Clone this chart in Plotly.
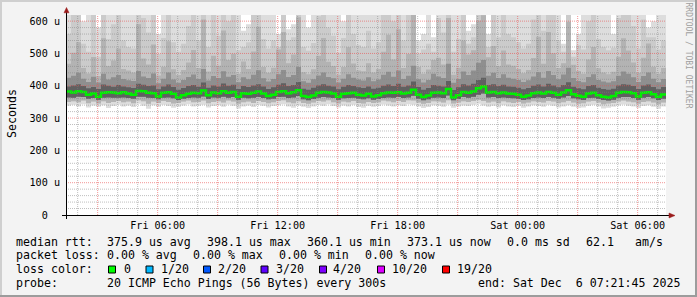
import plotly.graph_objects as go
import pandas as pd

# ---------------- data ----------------
start_time = "2025-12-05 01:25"
end_time = "2025-12-06 07:25"
times = pd.date_range(start_time, periods=121, freq="15min")

median = [
    382, 379, 383, 381, 372, 376, 366, 378, 380, 379,
    377, 380, 376, 372, 384, 383, 378, 377, 367, 378,
    380, 375, 364, 371, 375, 378, 377, 385, 371, 379,
    377, 383, 378, 381, 366, 377, 375, 378, 382, 376,
    368, 372, 381, 383, 377, 380, 386, 368, 365, 370,
    378, 381, 379, 376, 366, 375, 377, 378, 372, 370,
    375, 367, 371, 377, 379, 378, 380, 376, 378, 388,
    372, 365, 370, 378, 379, 377, 390, 364, 371, 381,
    378, 382, 392, 398, 379, 381, 377, 379, 376, 375,
    372, 366, 370, 377, 379, 376, 381, 378, 372, 379,
    386, 374, 369, 366, 376, 378, 371, 366, 364, 368,
    378, 381, 380, 377, 367, 378, 380, 374, 366, 373, 373]

lo1 = [
    338, 341, 336, 343, 333, 339, 335, 340, 331, 337,
    342, 336, 339, 334, 344, 338, 329, 340, 335, 341,
    337, 332, 335, 339, 343, 336, 338, 341, 333, 337,
    340, 335, 342, 338, 330, 336, 339, 334, 341, 338,
    333, 337, 340, 343, 336, 332, 339, 335, 331, 336,
    341, 338, 343, 337, 333, 339, 336, 341, 334, 332,
    338, 335, 337, 342, 339, 336, 340, 337, 343, 341,
    336, 331, 334, 340, 338, 335, 342, 332, 336, 339,
    337, 341, 344, 339, 335, 338, 333, 340, 336, 334,
    338, 332, 336, 340, 337, 335, 341, 338, 333, 336,
    340, 335, 331, 333, 338, 341, 336, 330, 332, 335,
    339, 342, 338, 336, 331, 337, 340, 335, 329, 336, 336]

lo2 = [
    350, 352, 349, 354, 346, 351, 345, 352, 347, 350,
    353, 349, 351, 346, 355, 352, 344, 351, 347, 353,
    350, 345, 347, 351, 354, 349, 350, 354, 346, 350,
    352, 348, 354, 351, 344, 349, 351, 347, 353, 350,
    346, 349, 353, 355, 349, 346, 352, 347, 344, 348,
    353, 351, 355, 349, 345, 351, 349, 353, 347, 345,
    350, 347, 349, 354, 352, 349, 353, 350, 355, 354,
    348, 344, 347, 352, 351, 348, 355, 345, 348, 352,
    350, 353, 357, 353, 348, 351, 346, 352, 349, 347,
    350, 345, 348, 352, 350, 348, 353, 351, 346, 349,
    353, 348, 344, 346, 351, 353, 348, 343, 345, 347,
    351, 354, 351, 349, 344, 350, 352, 348, 343, 348, 348]

lo3 = [
    364, 363, 366, 365, 360, 362, 357, 363, 364, 363,
    363, 364, 362, 360, 366, 366, 363, 362, 358, 363,
    364, 361, 356, 360, 362, 364, 363, 367, 359, 364,
    363, 366, 363, 365, 357, 363, 361, 363, 365, 362,
    358, 360, 365, 366, 362, 364, 368, 358, 355, 359,
    363, 365, 364, 362, 357, 361, 362, 363, 360, 358,
    361, 357, 359, 362, 364, 363, 365, 362, 364, 369,
    360, 355, 358, 363, 364, 362, 370, 355, 359, 365,
    363, 366, 372, 376, 364, 365, 362, 364, 362, 361,
    359, 356, 358, 362, 364, 362, 365, 363, 360, 364,
    368, 361, 358, 356, 362, 363, 359, 356, 354, 357,
    363, 365, 365, 362, 357, 363, 365, 361, 356, 360, 360]

hi5 = [
    398, 401, 405, 399, 392, 396, 390, 404, 400, 397,
    402, 398, 395, 393, 406, 403, 399, 401, 389, 398,
    404, 396, 388, 393, 399, 402, 397, 410, 394, 401,
    398, 407, 400, 403, 390, 399, 396, 401, 405, 398,
    390, 395, 403, 408, 399, 402, 412, 391, 388, 394,
    401, 405, 400, 398, 389, 397, 402, 399, 395, 393,
    398, 391, 394, 400, 404, 399, 406, 397, 401, 413,
    396, 388, 393, 402, 400, 398, 415, 387, 395, 405,
    401, 406, 418, 425, 402, 405, 399, 403, 398, 397,
    394, 389, 393, 400, 404, 398, 406, 401, 395, 402,
    411, 397, 392, 389, 399, 402, 394, 390, 388, 391,
    401, 405, 403, 399, 390, 401, 404, 396, 389, 396, 396]

hi4 = [
    425, 431, 440, 422, 412, 428, 410, 437, 419, 426,
    433, 421, 417, 415, 446, 429, 424, 438, 408, 422,
    441, 419, 409, 418, 427, 435, 421, 452, 416, 430,
    424, 445, 428, 433, 411, 426, 420, 434, 448, 423,
    413, 421, 436, 449, 427, 433, 458, 414, 409, 420,
    432, 441, 427, 423, 410, 422, 436, 425, 419, 416,
    426, 414, 419, 434, 443, 428, 447, 421, 431, 462,
    420, 410, 418, 437, 429, 424, 468, 409, 421, 444,
    433, 447, 471, 480, 431, 440, 424, 436, 425, 422,
    418, 412, 417, 429, 442, 425, 446, 433, 420, 435,
    456, 424, 415, 411, 427, 436, 418, 413, 410, 414,
    431, 444, 437, 426, 412, 430, 441, 422, 411, 421, 421]

hi3 = [
    468, 502, 535, 455, 438, 489, 430, 547, 461, 478,
    515, 452, 447, 441, 590, 484, 466, 528, 432, 459,
    538, 451, 433, 449, 472, 511, 455, 605, 444, 493,
    462, 571, 480, 499, 437, 475, 452, 506, 583, 458,
    440, 456, 512, 566, 470, 497, 612, 442, 436, 451,
    493, 548, 474, 461, 434, 458, 519, 469, 447, 445,
    470, 441, 452, 505, 558, 481, 575, 455, 498, 620,
    458, 437, 450, 480, 487, 466, 610, 434, 456, 540,
    497, 510, 602, 618, 488, 523, 460, 509, 466, 462,
    452, 439, 449, 486, 552, 468, 566, 501, 455, 470,
    598, 465, 446, 437, 481, 520, 454, 441, 436, 443,
    490, 547, 509, 472, 440, 487, 531, 459, 437, 455, 455]

hi2 = [
    560, 640, 660, 530, 505, 620, 490, 660, 545, 590,
    650, 540, 520, 515, 660, 610, 565, 660, 498, 548,
    660, 535, 505, 530, 585, 650, 540, 660, 520, 620,
    555, 660, 600, 630, 510, 520, 535, 640, 660, 545,
    515, 540, 520, 660, 540, 550, 660, 520, 508, 532,
    615, 660, 580, 555, 502, 548, 650, 560, 525, 520,
    570, 515, 535, 640, 660, 600, 660, 540, 625, 660,
    500, 512, 530, 505, 610, 565, 660, 505, 545, 660,
    530, 550, 660, 660, 520, 650, 550, 640, 560, 550,
    535, 515, 530, 605, 660, 570, 660, 630, 540, 505,
    660, 490, 525, 512, 600, 650, 545, 520, 510, 518,
    610, 660, 640, 585, 515, 605, 550, 550, 512, 540, 540]

hi1 = [
    660, 660, 660, 600, 660, 660, 580, 660, 660, 660,
    660, 660, 620, 660, 660, 660, 660, 660, 560, 660,
    660, 660, 660, 660, 660, 660, 660, 660, 660, 660,
    660, 660, 660, 660, 660, 570, 590, 660, 660, 660,
    660, 660, 560, 660, 575, 590, 660, 660, 580, 660,
    660, 660, 660, 660, 660, 600, 660, 660, 660, 660,
    660, 660, 660, 660, 660, 660, 660, 660, 660, 660,
    540, 560, 660, 550, 660, 660, 660, 660, 660, 660,
    570, 590, 660, 660, 560, 660, 660, 660, 660, 660,
    660, 660, 660, 660, 660, 660, 660, 660, 660, 530,
    660, 510, 560, 660, 660, 660, 660, 660, 660, 560,
    660, 660, 660, 660, 660, 660, 580, 600, 660, 660, 660]

# tick labels
y_tick_vals = [0, 100, 200, 300, 400, 500, 600]
y_tick_text = ["0\u00a0\u00a0", "100 u", "200 u", "300 u", "400 u", "500 u", "600 u"]
x_tick_vals = ["2025-12-05 06:00", "2025-12-05 12:00", "2025-12-05 18:00",
               "2025-12-06 00:00", "2025-12-06 06:00"]
x_tick_text = ["Fri 06:00", "Fri 12:00", "Fri 18:00", "Sat 00:00", "Sat 06:00"]

rtt_items = ["375.9 us avg", "398.1 us max", "360.1 us min", "373.1 us now",
             "0.0 ms sd", "62.1", "am/s"]
loss_items = ["0.00 % avg", "0.00 % max", "0.00 % min", "0.00 % now"]
loss_labels = ["0", "1/20", "2/20", "3/20", "4/20", "10/20", "19/20"]
loss_colors = ["#00ff00", "#00b8ff", "#0059ff", "#5e00ff", "#7e00ff", "#dd00ff", "#ff0000"]
probe_text = "20 ICMP Echo Pings (56 Bytes) every 300s"
end_text = "end: Sat Dec  6 07:21:45 2025"

# ---------------- layout geometry (pixels) ----------------
W_FIG, H_FIG = 697, 297
L, T, PW, PH = 66, 15, 600, 200
FONT = "DejaVu Sans Mono"
Y_MAX = 619


def px(x):
    return (x - L) / PW


def py(y):
    return (T + PH - y) / PH


band_colors = ["#dddddd", "#cbcbcb", "#b3b3b3", "#8f8f8f", "#606060"]
bands = [(lo1, hi1), (lo2, hi2), (lo2, hi3), (lo3, hi4), (lo3, hi5)]

fig = go.Figure()
for (lo, hi), col in zip(bands, band_colors):
    fig.add_trace(go.Scatter(x=times, y=lo, mode="lines",
                             line=dict(width=0, shape="hv"),
                             hoverinfo="skip", showlegend=False))
    fig.add_trace(go.Scatter(x=times, y=hi, mode="lines",
                             line=dict(width=0, shape="hv"),
                             fill="tonexty", fillcolor=col,
                             hoverinfo="skip", showlegend=False))
fig.add_trace(go.Scatter(x=times, y=median, mode="lines",
                         line=dict(color="#00f000", width=2.5, shape="hv"),
                         hoverinfo="skip", showlegend=False))

fig.update_layout(
    width=W_FIG, height=H_FIG, autosize=False,
    margin=dict(l=L, r=W_FIG - L - PW, t=T, b=H_FIG - T - PH, pad=0),
    paper_bgcolor="#f3f3f3", plot_bgcolor="#ffffff",
    showlegend=False,
    font=dict(family=FONT, color="#000000"),
    xaxis=dict(
        type="date", range=[start_time, end_time],
        tickmode="array", tickvals=x_tick_vals, ticktext=x_tick_text, tickangle=0,
        showgrid=False, zeroline=False, showline=False, ticks="",
        ticklabelstandoff=3,
        tickfont=dict(family=FONT, size=10.15, color="#000000"),
        fixedrange=True,
    ),
    yaxis=dict(
        range=[0, Y_MAX],
        tickmode="array", tickvals=y_tick_vals, ticktext=y_tick_text,
        showgrid=False, zeroline=False, showline=False, ticks="",
        ticklabelstandoff=5,
        tickfont=dict(family=FONT, size=10.15, color="#000000"),
        fixedrange=True,
    ),
)

major_grid = "rgba(235,80,80,0.6)"
minor_grid = "rgba(130,130,130,0.5)"
shapes = []

# grid (drawn above the smoke like rrdtool does)
for t in pd.date_range("2025-12-05 02:00", "2025-12-06 07:00", freq="1h"):
    shapes.append(dict(type="line", xref="x", yref="paper", x0=t, x1=t, y0=0, y1=1,
                       line=dict(color=major_grid if t.hour % 3 == 0 else minor_grid,
                                 width=1, dash="1px,1px"), layer="above"))
for v in range(20, Y_MAX, 20):
    shapes.append(dict(type="line", xref="paper", yref="y", x0=0, x1=1, y0=v, y1=v,
                       line=dict(color=major_grid if v % 100 == 0 else minor_grid,
                                 width=1, dash="1px,1px"), layer="above"))

# frame shading
shapes.append(dict(type="rect", xref="paper", yref="paper", x0=px(0), x1=px(W_FIG), y0=py(2), y1=py(0),
                   fillcolor="#cfcfcf", line=dict(width=0), layer="above"))
shapes.append(dict(type="rect", xref="paper", yref="paper", x0=px(0), x1=px(2), y0=py(H_FIG), y1=py(0),
                   fillcolor="#cfcfcf", line=dict(width=0), layer="above"))
shapes.append(dict(type="rect", xref="paper", yref="paper", x0=px(0), x1=px(W_FIG), y0=py(H_FIG), y1=py(H_FIG - 2),
                   fillcolor="#9c9c9c", line=dict(width=0), layer="above"))
shapes.append(dict(type="rect", xref="paper", yref="paper", x0=px(W_FIG - 2), x1=px(W_FIG), y0=py(H_FIG), y1=py(0),
                   fillcolor="#9c9c9c", line=dict(width=0), layer="above"))
# axis lines
shapes.append(dict(type="line", xref="paper", yref="paper", x0=px(62), x1=px(669), y0=py(215.5), y1=py(215.5),
                   line=dict(color="#000000", width=1), layer="above"))
shapes.append(dict(type="line", xref="paper", yref="paper", x0=px(66.5), x1=px(66.5), y0=py(219), y1=py(12),
                   line=dict(color="#000000", width=1), layer="above"))
# arrows
arrow_col = "#9b1c1c"
shapes.append(dict(type="path", xref="paper", yref="paper",
                   path=f"M {px(64.0)},{py(12.8)} L {px(69.0)},{py(12.8)} L {px(66.5)},{py(7.5)} Z",
                   fillcolor=arrow_col, line=dict(color=arrow_col, width=0.5), layer="above"))
shapes.append(dict(type="path", xref="paper", yref="paper",
                   path=f"M {px(669)},{py(213.0)} L {px(669)},{py(218.0)} L {px(675)},{py(215.5)} Z",
                   fillcolor=arrow_col, line=dict(color=arrow_col, width=0.5), layer="above"))

annotations = []


def add_text(text, x, y, size=11.6, color="#000000", xanchor="left", angle=0):
    annotations.append(dict(text=text.replace(" ", "\u00a0"), x=px(x), y=py(y), xref="paper", yref="paper",
                            xanchor=xanchor, yanchor="middle", showarrow=False, textangle=angle,
                            borderpad=0, borderwidth=0,
                            font=dict(family=FONT, size=size, color=color)))


row_y = [241.5, 255.2, 268.9, 282.6]
add_text("median rtt:", 16, row_y[0])
for txt, x in zip(rtt_items, [107.3, 207.3, 307.3, 407.0, 507.0, 586.0, 635.0]):
    add_text(txt, x, row_y[0])
add_text("packet loss:", 16, row_y[1])
for txt, x in zip(loss_items, [107.3, 193.3, 279.3, 365.3]):
    add_text(txt, x, row_y[1])
add_text("loss color:", 16, row_y[2])
sq_x = [108.5, 146.0, 203.5, 261.0, 319.5, 377.5, 442.5]
lab_x = [124.0, 160.7, 218.3, 276.0, 333.3, 391.7, 456.7]
for lab, col, sx, lx in zip(loss_labels, loss_colors, sq_x, lab_x):
    shapes.append(dict(type="rect", xref="paper", yref="paper",
                       x0=px(sx), x1=px(sx + 7), y0=py(273.0), y1=py(266.0),
                       fillcolor=col, line=dict(color="#000000", width=1), layer="above"))
    add_text(lab, lx, row_y[2])
add_text("probe:", 16, row_y[3])
add_text(probe_text, 107.3, row_y[3])
add_text(end_text, 478.3, row_y[3])

add_text("Seconds", 12, 114, angle=-90, xanchor="center")
add_text("RRDTOOL / TOBI OETIKER", 687.5, 55, size=8, color="#a0a0a0", angle=90, xanchor="center")

fig.update_layout(shapes=shapes, annotations=annotations)
fig.write_html("out.html", config={"displayModeBar": False, "staticPlot": True})
